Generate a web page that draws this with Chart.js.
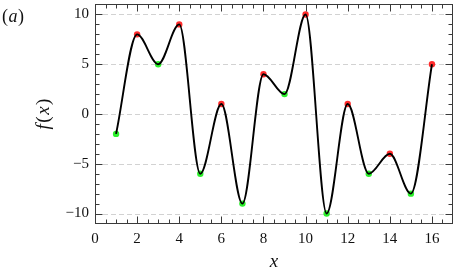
<!DOCTYPE html>
<html><head><meta charset="utf-8">
<script src="https://cdn.jsdelivr.net/npm/chart.js@4/dist/chart.umd.min.js"></script>
<style>html,body{margin:0;padding:0;background:#fff}#c{display:block}</style>
</head><body>
<canvas id="c" width="457" height="270"></canvas>
<script>
// ---- data ----
const xValues = [1, 2, 3, 4, 5, 6, 7, 8, 9, 10, 11, 12, 13, 14, 15, 16];
const fValues = [-2, 8, 5, 9, -6, 1, -9, 4, 2, 10, -10, 1, -6, -4, -8, 5];
const extremumKind = ['min','max','min','max','min','max','min','max','min','max','min','max','min','max','min','max'];
const xTicks = [0, 2, 4, 6, 8, 10, 12, 14, 16];
const yTicks = [-10, -5, 0, 5, 10];

const SERIF = '"Liberation Serif", "DejaVu Serif", serif';
const colorFor = k => k === 'max' ? 'rgba(255,20,20,0.9)' : 'rgba(20,240,20,0.9)';

function drawMixed(ctx, parts, x, y, size, align, gap) {
  gap = gap || 0;
  let widths = parts.map(([t, it]) => { ctx.font = (it ? 'italic ' : '') + size + 'px ' + SERIF; return ctx.measureText(t).width; });
  let total = widths.reduce((a, b) => a + b, 0) + gap * (parts.length - 1);
  let cx = align === 'center' ? x - total / 2 : x;
  ctx.textAlign = 'left'; ctx.textBaseline = 'middle';
  parts.forEach(([t, it], i) => { ctx.font = (it ? 'italic ' : '') + size + 'px ' + SERIF; ctx.fillText(t, cx, y); cx += widths[i] + gap; });
}

const framePlugin = {
  id: 'frame',
  beforeDatasetsDraw(chart) {
    const { ctx, chartArea: a, scales: { y } } = chart;
    ctx.save();
    ctx.strokeStyle = '#d2d2d2'; ctx.lineWidth = 1; ctx.setLineDash([5, 3]);
    yTicks.forEach(v => {
      const py = Math.round(y.getPixelForValue(v)) + 0.5;
      ctx.beginPath(); ctx.moveTo(a.left, py); ctx.lineTo(a.right, py); ctx.stroke();
    });
    ctx.restore();
  },
  afterDraw(chart) {
    const { ctx, chartArea: a, scales: { x, y } } = chart;
    ctx.save();
    ctx.strokeStyle = '#3a3a3a'; ctx.lineWidth = 1;
    const L = Math.round(a.left) + 0.5, R = Math.round(a.right) - 0.5, T = Math.round(a.top) + 0.5, B = Math.round(a.bottom) - 0.5;
    ctx.strokeRect(L, T, R - L, B - T);
    ctx.beginPath();
    for (let v = x.min; v <= x.max + 1e-9; v += 0.5) {
      const px = Math.round(x.getPixelForValue(v)) + 0.5;
      if (px <= L + 0.5 || px >= R - 0.5) continue;
      const len = (Math.abs(v % 2) < 1e-9) ? 7 : 4;
      ctx.moveTo(px, B); ctx.lineTo(px, B - len);
      ctx.moveTo(px, T); ctx.lineTo(px, T + len);
    }
    for (let v = Math.ceil(y.min); v <= y.max + 1e-9; v += 1) {
      const py = Math.round(y.getPixelForValue(v)) + 0.5;
      if (py <= T + 0.5 || py >= B - 0.5) continue;
      const len = (Math.abs(v % 5) < 1e-9) ? 7 : 4;
      ctx.moveTo(L, py); ctx.lineTo(L + len, py);
      ctx.moveTo(R, py); ctx.lineTo(R - len, py);
    }
    ctx.stroke();
    ctx.fillStyle = '#111';
    drawMixed(ctx, [['(', false], ['a', true], [')', false]], 2, 17, 18, 'left', 0.5);
    drawMixed(ctx, [['x', true]], (a.left + a.right) / 2, 262, 19, 'center');
    ctx.translate(44, (a.top + a.bottom) / 2);
    ctx.rotate(-Math.PI / 2);
    drawMixed(ctx, [['f', true], ['(', false], ['x', true], [')', false]], 0, 0, 19, 'center', 1.5);
    ctx.restore();
  }
};

const minus = v => String(v).replace('-', '\u2212');

new Chart(document.getElementById('c'), {
  type: 'line',
  data: {
    datasets: [
      {
        label: 'f(x)',
        data: xValues.map((xv, i) => ({ x: xv, y: fValues[i] })),
        borderColor: '#000', borderWidth: 1.9,
        pointRadius: 0, cubicInterpolationMode: 'monotone', fill: false, order: 0
      },
      {
        label: 'extrema',
        type: 'scatter',
        data: xValues.map((xv, i) => ({ x: xv, y: fValues[i] })),
        pointRadius: 3.2, pointBorderWidth: 0,
        pointBackgroundColor: extremumKind.map(colorFor),
        pointBorderColor: extremumKind.map(colorFor),
        showLine: false, order: 1
      }
    ]
  },
  options: {
    responsive: false, animation: false, devicePixelRatio: 1,
    layout: { padding: { left: 0, right: 2, top: 1, bottom: 0 } },
    plugins: { legend: { display: false }, tooltip: { enabled: false } },
    scales: {
      x: {
        type: 'linear', min: 0, max: 17,
        grid: { display: false, drawTicks: false },
        border: { display: false },
        afterBuildTicks: s => { s.ticks = xTicks.map(v => ({ value: v })); },
        afterFit: s => { s.height = 46; s.paddingLeft = 0; s.paddingRight = 0; s.paddingTop = 0; s.paddingBottom = 0; },
        ticks: { padding: 6, maxRotation: 0, autoSkip: false, color: '#111',
          font: { family: SERIF, size: 15 }, callback: v => minus(v) }
      },
      y: {
        type: 'linear', min: -11.05, max: 11.05,
        grid: { display: false, drawTicks: false },
        border: { display: false },
        afterBuildTicks: s => { s.ticks = yTicks.map(v => ({ value: v })); },
        afterFit: s => { s.width = 95; s.paddingLeft = 0; s.paddingRight = 0; s.paddingTop = 0; s.paddingBottom = 0; },
        ticks: { padding: 6, autoSkip: false, color: '#111',
          font: { family: SERIF, size: 15 }, callback: v => minus(v) }
      }
    }
  },
  plugins: [framePlugin]
});
</script>
</body></html>
